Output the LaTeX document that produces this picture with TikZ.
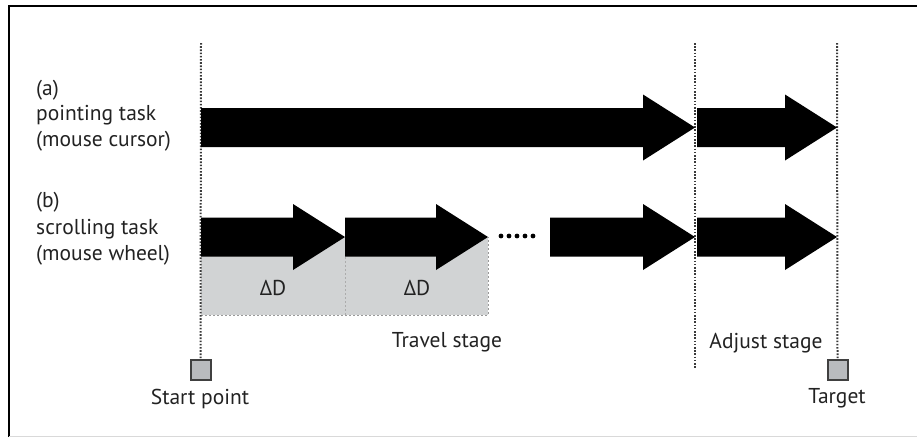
\documentclass[tikz,border=0pt]{standalone}
\usepackage{fontspec}
\setmainfont{PT Sans}
\definecolor{boxgray}{HTML}{D1D3D4}
\definecolor{sqgray}{HTML}{B9BBBE}
\definecolor{dotgray}{HTML}{3A3A3A}
\definecolor{txt}{HTML}{222222}
\newcommand{\fatarrow}[3]{%
  \fill[black] (#1,#3-19.5) -- (#2-52,#3-19.5) -- (#2-52,#3-33) -- (#2,#3)
   -- (#2-52,#3+33) -- (#2-52,#3+19.5) -- (#1,#3+19.5) -- cycle;}
\begin{document}
\begin{tikzpicture}[x=1pt,y=-1pt,
  lbl/.style={font=\fontsize{21.5}{24}\selectfont, text=txt, inner sep=0pt, anchor=base west},
  clbl/.style={font=\fontsize{21.5}{24}\selectfont, text=txt, inner sep=0pt, anchor=base},
  guide/.style={draw=dotgray, line width=2pt, dash pattern=on 1.6pt off 1.6pt},
  marker/.style={draw=black!75, fill=sqgray, line width=2pt, minimum size=20pt, inner sep=0pt}]
\useasboundingbox (0,0) rectangle (917,437);
% frame
\draw[line width=2pt] (9,437) -- (9,6) -- (917,6);
\draw[gray!30, line width=1pt] (9,436) -- (917,436);
% coordinates
\coordinate (s0) at (201,43);
\coordinate (m0) at (695,43);
\coordinate (t0) at (837,43);
% gray boxes
\fill[boxgray] (201,237) rectangle (345,315);
\fill[boxgray] (345,237) rectangle (488,315);
\draw[gray!80, line width=1pt, dash pattern=on 2pt off 2pt] (201,315) -- (488,315) -- (488,237);
\draw[gray!65, line width=1pt, dash pattern=on 2pt off 2pt] (345,237) -- (345,315);
\node[clbl] (d1) at (273,295) {ΔD};
\node[clbl] (d2) at (417,295) {ΔD};
% markers
\node[marker] (start) at (200.5,370) {};
\node[marker] (target) at (837.5,370) {};
% guides
\draw[guide] (s0) -- (start.north);
\draw[guide] (m0) -- (695,369);
\draw[guide] (t0) -- (target.north);
% arrows row a
\fatarrow{201}{695}{127.5}
\fatarrow{697}{837}{127.5}
% arrows row b
\fatarrow{201}{345}{237}
\fatarrow{345}{488}{237}
\fatarrow{550}{695}{237}
\fatarrow{697}{837}{237}
% dots
\foreach \x in {501,509,517,525,533} \fill[black] (\x,236) circle (2.4pt);
% labels
\node[lbl] (a1) at (36,95) {(a)};
\node[lbl] (a2) at (36,120) {pointing task};
\node[lbl] (a3) at (36,146) {(mouse cursor)};
\node[lbl] (b1) at (36,207) {(b)};
\node[lbl] (b2) at (36,234) {scrolling task};
\node[lbl] (b3) at (36,260) {(mouse wheel)};
\node[clbl] (travel) at (447,347) {Travel stage};
\node[clbl] (adjust) at (766,348) {Adjust stage};
\node[clbl] (startlbl) at (200,404) {Start point};
\node[clbl] (targetlbl) at (837,403) {Target};
\end{tikzpicture}
\end{document}
